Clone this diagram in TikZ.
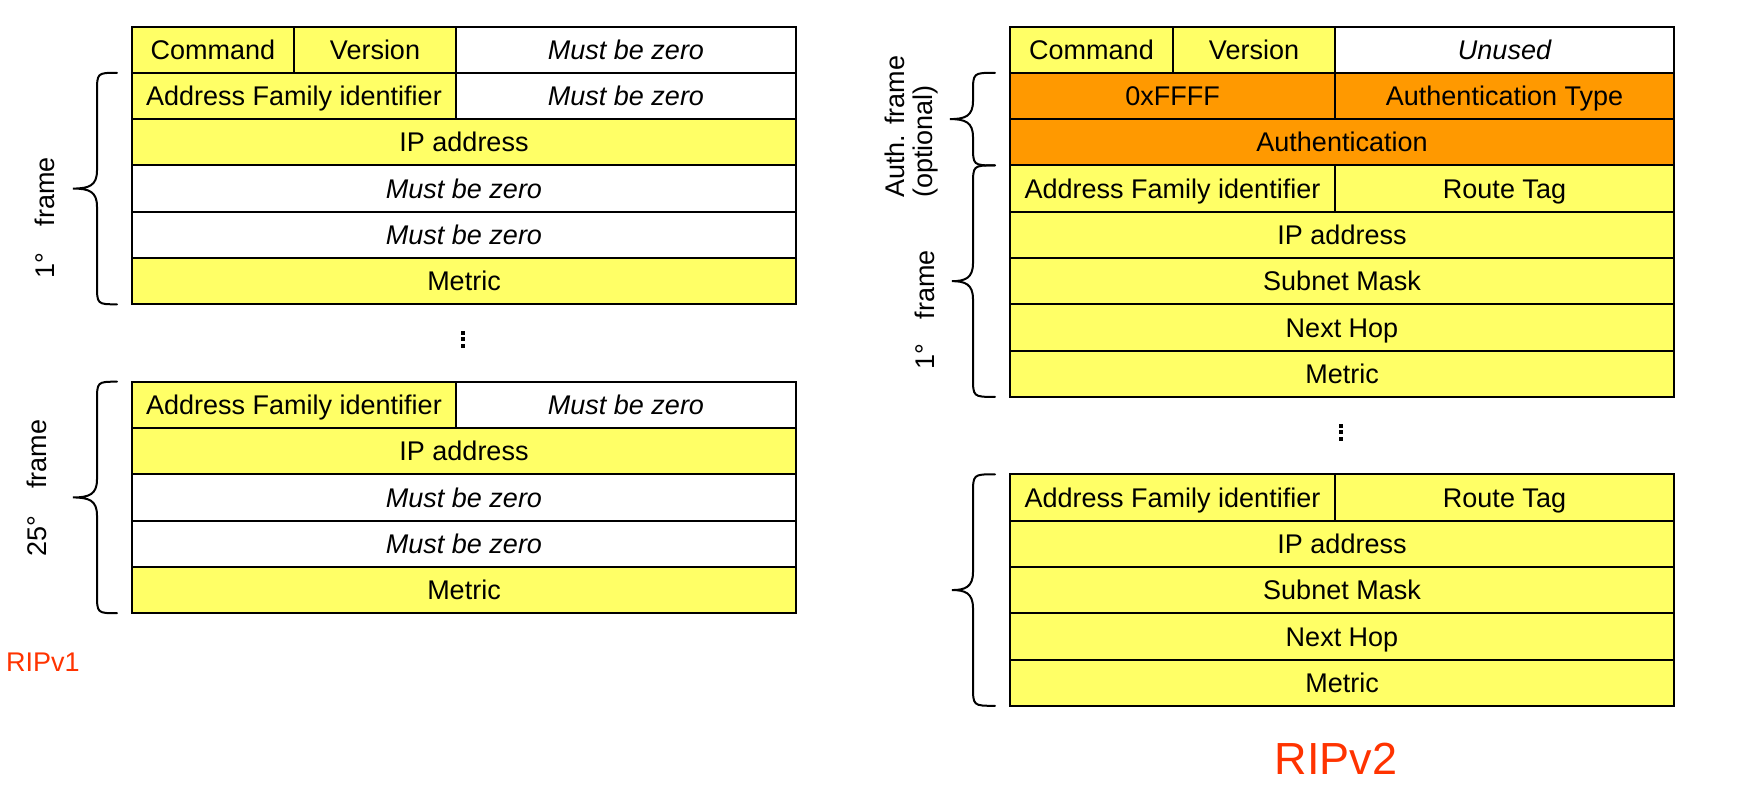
\documentclass[tikz,border=0pt]{standalone}
\usepackage{fontspec}
\setmainfont{Liberation Sans}
\definecolor{ylw}{HTML}{FFFF66}
\definecolor{org}{HTML}{FF9900}
\definecolor{rred}{HTML}{FF3300}
\newcommand{\mybrace}[5]{% #1 tip x, #2 stem x, #3 end x, #4 top y, #5 bottom y
  \draw[brc] (#3,#4) .. controls (#2,#4) .. (#2,#4+20)
    -- ({#2},{(#4+#5)/2-18}) .. controls ({#2},{(#4+#5)/2-3}) and ({#2-8},{(#4+#5)/2}) .. ({#1},{(#4+#5)/2})
    .. controls ({#2-8},{(#4+#5)/2}) and ({#2},{(#4+#5)/2+3}) .. ({#2},{(#4+#5)/2+18})
    -- (#2,#5-20) .. controls (#2,#5) .. (#3,#5);}
\begin{document}
\begin{tikzpicture}[x=1pt,y=-1pt,
  cell/.style={draw=black, line width=2pt, inner sep=0pt, outer sep=0pt, anchor=north west,
    minimum height=46.3pt, text height=19.4pt, text depth=0pt, font=\fontsize{27}{32}\selectfont},
  yc/.style={cell, fill=ylw},
  oc/.style={cell, fill=org},
  wc/.style={cell, fill=white, font=\fontsize{27}{32}\selectfont\itshape},
  brc/.style={line width=2pt, line cap=round},
  lbl/.style={rotate=90, inner sep=0pt, font=\fontsize{27}{32}\selectfont},
  dot/.style={fill=black}]
\useasboundingbox (0,0) rectangle (1750,788);
% ---------- RIPv1, first frame ----------
\node[yc, minimum width=162pt] (l1cmd) at (132,26.5) {Command};
\node[yc, minimum width=162pt] (l1ver) at (294,26.5) {Version};
\node[wc, minimum width=340pt] (l1mbz) at (456,26.5) {Must be zero};
\node[yc, minimum width=324pt] (l1afi) at (132,72.8) {Address Family identifier};
\node[wc, minimum width=340pt] (l1mbz2) at (456,72.8) {Must be zero};
\node[yc, minimum width=664pt] (l1ip) at (132,119.1) {IP address};
\node[wc, minimum width=664pt] (l1z1) at (132,165.4) {Must be zero};
\node[wc, minimum width=664pt] (l1z2) at (132,211.7) {Must be zero};
\node[yc, minimum width=664pt] (l1met) at (132,258.0) {Metric};
% ---------- RIPv1, 25th frame ----------
\node[yc, minimum width=324pt] (l2afi) at (132,381.7) {Address Family identifier};
\node[wc, minimum width=340pt] (l2mbz) at (456,381.7) {Must be zero};
\node[yc, minimum width=664pt] (l2ip) at (132,428.0) {IP address};
\node[wc, minimum width=664pt] (l2z1) at (132,474.3) {Must be zero};
\node[wc, minimum width=664pt] (l2z2) at (132,520.6) {Must be zero};
\node[yc, minimum width=664pt] (l2met) at (132,566.9) {Metric};
% ---------- RIPv2, first frame ----------
\node[yc, minimum width=163pt] (r1cmd) at (1010,26.5) {Command};
\node[yc, minimum width=162pt] (r1ver) at (1173,26.5) {Version};
\node[wc, minimum width=339pt] (r1unu) at (1335,26.5) {Unused};
\node[oc, minimum width=325pt] (r1ff) at (1010,72.8) {0xFFFF};
\node[oc, minimum width=339pt] (r1at) at (1335,72.8) {Authentication Type};
\node[oc, minimum width=664pt] (r1auth) at (1010,119.1) {Authentication};
\node[yc, minimum width=325pt] (r1afi) at (1010,165.4) {Address Family identifier};
\node[yc, minimum width=339pt] (r1tag) at (1335,165.4) {Route Tag};
\node[yc, minimum width=664pt] (r1ip) at (1010,211.7) {IP address};
\node[yc, minimum width=664pt] (r1sm) at (1010,258.0) {Subnet Mask};
\node[yc, minimum width=664pt] (r1nh) at (1010,304.3) {Next Hop};
\node[yc, minimum width=664pt] (r1met) at (1010,350.6) {Metric};
% ---------- RIPv2, last frame ----------
\node[yc, minimum width=325pt] (r2afi) at (1010,474.3) {Address Family identifier};
\node[yc, minimum width=339pt] (r2tag) at (1335,474.3) {Route Tag};
\node[yc, minimum width=664pt] (r2ip) at (1010,520.6) {IP address};
\node[yc, minimum width=664pt] (r2sm) at (1010,566.9) {Subnet Mask};
\node[yc, minimum width=664pt] (r2nh) at (1010,613.2) {Next Hop};
\node[yc, minimum width=664pt] (r2met) at (1010,659.5) {Metric};
% ---------- braces ----------
\mybrace{73}{97}{117}{72.8}{304.3}
\mybrace{73}{97}{117}{381.7}{613.2}
\mybrace{950}{973}{995}{72.8}{165.4}
\mybrace{952}{973}{995}{165.4}{396.9}
\mybrace{952}{973}{995}{474.3}{705.8}
% ---------- brace labels ----------
\node[lbl] (l1lbl) at (45,218) {1°\hspace{27pt}frame};
\node[lbl] (l2lbl) at (37,488) {25°\hspace{27pt}frame};
\node[lbl] (r1lbl) at (925,310) {1°\hspace{25pt}frame};
\node[lbl, anchor=west] (authlbl) at (895,198) {Auth. frame};
\node[lbl, anchor=west] (optlbl) at (926,198) {(optional)};
% ---------- vertical dots ----------
\fill[dot] (461,331) rectangle (465,335);
\fill[dot] (461,337) rectangle (465,341);
\fill[dot] (461,344) rectangle (465,348);
\fill[dot] (1339,424) rectangle (1343,428);
\fill[dot] (1339,430) rectangle (1343,434);
\fill[dot] (1339,437) rectangle (1343,441);
% ---------- titles ----------
\node[anchor=west, inner sep=0pt, text=rred, font=\fontsize{27}{32}\selectfont] (ripv1) at (6,662) {RIPv1};
\node[inner sep=0pt, text=rred, font=\fontsize{45}{54}\selectfont] (ripv2) at (1336,759) {RIPv2};
\end{tikzpicture}
\end{document}
